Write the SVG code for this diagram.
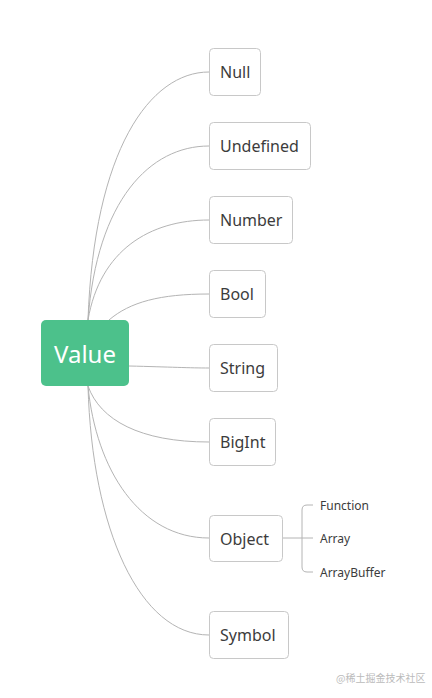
<svg xmlns="http://www.w3.org/2000/svg" width="432" height="698" viewBox="0 0 432 698">
<style>
.n{fill:#fff;stroke:#c8c8c8;stroke-width:1}
.t{font-family:"Noto Sans","Liberation Sans",sans-serif;font-size:16px;fill:#3c3c3c}
.s{font-family:"Noto Sans","Liberation Sans",sans-serif;font-size:12px;fill:#3c3c3c}
.c{fill:none;stroke:#b4b4b4;stroke-width:1}
</style>
<rect width="432" height="698" fill="#fff"/>
<g id="connectors">
<path class="c" d="M88,320 C94,150 150,72 209,72"/>
<path class="c" d="M88,320 C97,200 150,146 209,146"/>
<path class="c" d="M88,320 C100,250 150,220 209,220"/>
<path class="c" d="M109,320 C130,302 160,294 209,294"/>
<path class="c" d="M129,366 C170,367 190,368 209,368"/>
<path class="c" d="M88,386 C100,420 140,442 209,442"/>
<path class="c" d="M88,386 C96,470 140,538 209,538"/>
<path class="c" d="M88,386 C92,530 140,635 209,635"/>
<path class="c" d="M282,538 H302 M313,505 H307 Q302,505 302,510 V567 Q302,572 307,572 H313 M302,538 H313"/>
</g>
<g id="value"><rect x="41" y="320" width="88" height="66" rx="5" fill="#4cc18b"/><text x="85" y="363" text-anchor="middle" font-family="Noto Sans, Liberation Sans, sans-serif" font-size="24" fill="#fff">Value</text></g>
<g id="null"><rect class="n" x="209.5" y="48.5" width="51" height="47" rx="4"/><text class="t" x="220" y="78">Null</text></g>
<g id="undefined"><rect class="n" x="209.5" y="122.5" width="101" height="47" rx="4"/><text class="t" x="220" y="152">Undefined</text></g>
<g id="number"><rect class="n" x="209.5" y="196.5" width="83" height="47" rx="4"/><text class="t" x="220" y="226">Number</text></g>
<g id="bool"><rect class="n" x="209.5" y="270.5" width="56" height="47" rx="4"/><text class="t" x="220" y="300">Bool</text></g>
<g id="string"><rect class="n" x="209.5" y="344.5" width="68" height="47" rx="4"/><text class="t" x="220" y="374">String</text></g>
<g id="bigint"><rect class="n" x="209.5" y="418.5" width="66" height="47" rx="4"/><text class="t" x="220" y="448">BigInt</text></g>
<g id="object"><rect class="n" x="209.5" y="515.5" width="73" height="46" rx="4"/><text class="t" x="220" y="545">Object</text></g>
<g id="symbol"><rect class="n" x="209.5" y="611.5" width="79" height="47" rx="4"/><text class="t" x="220" y="641">Symbol</text></g>
<g id="function"><text class="s" x="320" y="510">Function</text></g>
<g id="array"><text class="s" x="320" y="543">Array</text></g>
<g id="arraybuffer"><text class="s" x="320" y="577">ArrayBuffer</text></g>
<text x="336" y="682" font-family="Noto Sans CJK SC, sans-serif" font-size="10" fill="#bbb">@稀土掘金技术社区</text>
</svg>
